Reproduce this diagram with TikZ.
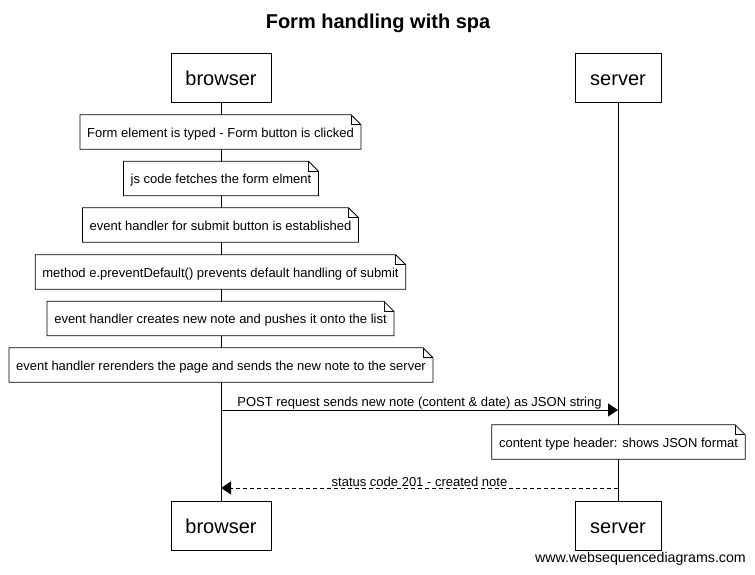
\documentclass[tikz,border=0pt]{standalone}
\usepackage{fontspec}
\setmainfont{Liberation Sans}
\usetikzlibrary{arrows.meta}
\tikzset{
  part/.style={draw=black, line width=0.8pt, fill=white, minimum width=100pt, minimum height=49pt, inner sep=0pt, text height=18pt, text depth=2pt, font=\fontsize{20}{24}\selectfont},
  notebox/.style={fill=white, minimum height=34pt, inner xsep=7pt, inner ysep=0pt, text height=12pt, text depth=1.5pt, font=\fontsize{13}{15}\selectfont},
  noteline/.style={draw=black, line width=0.8pt},
  lifeline/.style={draw=black, line width=0.8pt},
  msg/.style={line width=0.8pt, -{Triangle[length=10pt,width=13pt]}},
  msglabel/.style={font=\fontsize{13}{15}\selectfont, inner sep=0.5pt},
}
\newcommand\notefold[1]{%
  \path[noteline] (#1.north west) -- ([xshift=-10pt]#1.north east) -- ([yshift=-10pt]#1.north east) -- (#1.south east) -- (#1.south west) -- cycle;
  \path[noteline] ([xshift=-10pt]#1.north east) -- ([xshift=-10pt,yshift=-10pt]#1.north east) -- ([yshift=-10pt]#1.north east);
}
\begin{document}
\begin{tikzpicture}[x=1pt,y=-1pt]
\useasboundingbox (0,0) rectangle (755,574);
\node[font=\bfseries\fontsize{20}{24}\selectfont] (title) at (378,23) {Form handling with spa};
\coordinate (bt) at (221,102);
\coordinate (bb) at (221,501);
\coordinate (st) at (618,102);
\coordinate (sb) at (618,501);
\draw[lifeline] (bt) -- (bb);
\draw[lifeline] (st) -- (sb);
\node[part] (b1) at (221,77.5) {browser};
\node[part, minimum width=86pt] (s1) at (618,77.5) {server};
\node[part] (b2) at (221,525.5) {browser};
\node[part, minimum width=86pt] (s2) at (618,525.5) {server};

\node[notebox] (n1) at (220.5,132) {Form element is typed - Form button is clicked};
\node[notebox] (n2) at (221,178.5) {js code fetches the form elment};
\node[notebox] (n3) at (220.5,225) {event handler for submit button is established};
\node[notebox] (n4) at (220.5,272) {method e.preventDefault() prevents default handling of submit};
\node[notebox] (n5) at (220.5,318.5) {event handler creates new note and pushes it onto the list};
\node[notebox] (n6) at (221,365) {event handler rerenders the page and sends the new note to the server};
\node[notebox] (n7) at (618.5,442) {content type header: shows JSON format};
\foreach \n in {n1,n2,n3,n4,n5,n6,n7} {\notefold{\n}}

\coordinate (p1) at (221,410);
\coordinate (p2) at (618,410);
\draw[msg] (p1) -- node[msglabel, above=0pt] {POST request sends new note (content \& date) as JSON string} (p2);
\coordinate (r1) at (618,488);
\coordinate (r2) at (221,488);
\draw[msg, dashed, dash pattern=on 4pt off 3pt] (r1) -- node[msglabel, above=0pt] {status code 201 - created note} (r2);

\node[font=\fontsize{14.2}{16}\selectfont, anchor=east, inner sep=0pt] (footer) at (746,559) {www.websequencediagrams.com};
\end{tikzpicture}
\end{document}
